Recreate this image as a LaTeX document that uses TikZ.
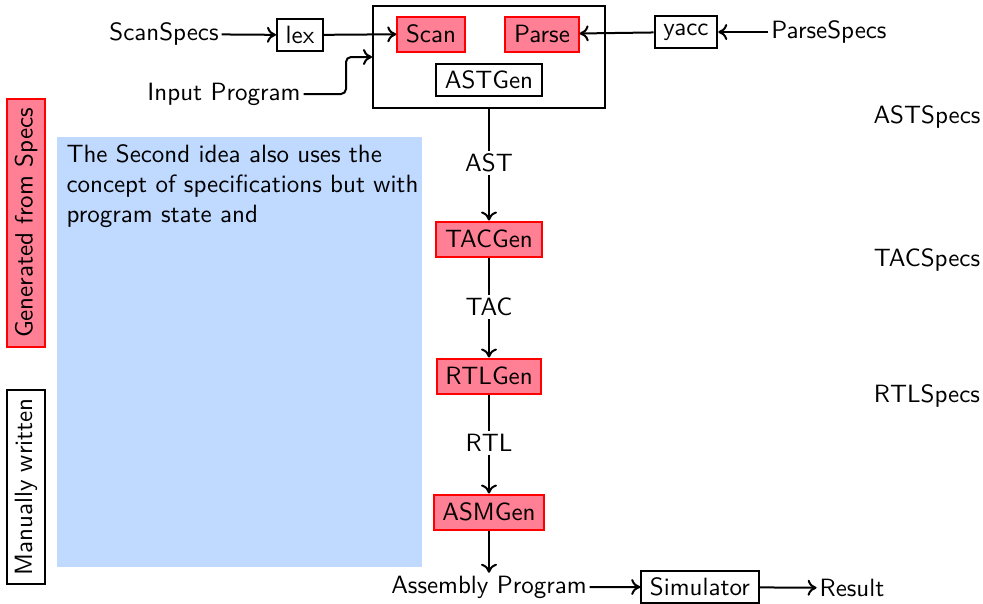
\documentclass[tikz,border=0pt]{standalone}
\usetikzlibrary{positioning}
\usetikzlibrary{arrows.meta}
\definecolor{specred}{RGB}{255,128,148}
\definecolor{noteblue}{RGB}{191,217,255}
\tikzset {
  x=0.4pt, y=-0.4pt,
  font=\sffamily,
  % plain boxes
  box/.style = {draw, thick, minimum height=13pt, inner xsep=3.5pt, inner ysep=2pt},
  % boxes that are generated from specs
  gen/.style = {box, draw=red, fill=specred, minimum height=14pt},
  % labels on the data path
  lbl/.style = {inner sep=1pt},
  flow/.style = {-{To[length=3.6pt, width=6.4pt]}, thick},
}

\begin{document}
\begin{tikzpicture}
  \useasboundingbox (0,0) rectangle (983,603);

  % front end
  \node[draw, thick, minimum width=92.8pt, minimum height=40.8pt] (frontend) at (489,57) {};
  \node[gen] (scan) at (431,34) {Scan};
  \node[gen] (parse) at (542,34) {Parse};
  \node[box] (astgen) at (489,80) {ASTGen};
  \node[box] (lex) at (300,35) {lex};
  \node[box] (yacc) at (686,32) {yacc};
  \node[lbl] (scanspecs) at (164,34) {ScanSpecs};
  \node[lbl] (parsespecs) at (829,32) {ParseSpecs};
  \node[lbl] (inputprog) at (224,94) {Input Program};

  \draw[flow] (scanspecs) -- (lex);
  \draw[flow] (lex) -- (scan);
  \draw[flow] (parsespecs) -- (yacc);
  \draw[flow] (yacc) -- (parse);
  \draw[flow, rounded corners=2pt] (inputprog.east) -- (346,94) |- (frontend.west);

  % back end
  \node[lbl] (ast) at (489,163) {AST};
  \node[gen] (tacgen) [below of=ast, node distance=30.4pt] {TACGen};
  \node[lbl] (tac) [below of=tacgen, node distance=27.2pt] {TAC};
  \node[gen] (rtlgen) [below of=tac, node distance=27.6pt] {RTLGen};
  \node[lbl] (rtl) [below of=rtlgen, node distance=26.8pt] {RTL};
  \node[gen] (asmgen) [below of=rtl, node distance=27.6pt] {ASMGen};
  \node[lbl] (asmprog) [below of=asmgen, node distance=30pt] {Assembly Program};
  \node[box] (sim) at (700,587) {Simulator};
  \node[lbl] (result) at (852,588) {Result};

  \draw[thick] (frontend) -- (ast);
  \draw[flow] (ast) -- (tacgen);
  \draw[thick] (tacgen) -- (tac);
  \draw[flow] (tac) -- (rtlgen);
  \draw[thick] (rtlgen) -- (rtl);
  \draw[flow] (rtl) -- (asmgen);
  \draw[flow] (asmgen) -- (asmprog);
  \draw[flow] (asmprog) -- (sim);
  \draw[flow] (sim) -- (result);

  % specs
  \node[lbl] (astspecs) at (927,117) {ASTSpecs};
  \node[lbl] (tacspecs) at (927,260) {TACSpecs};
  \node[lbl] (rtlspecs) at (927,396) {RTLSpecs};

  % legend
  \node[gen, rotate=90, minimum width=97.6pt, minimum height=15.2pt] (genleg) at (26,223) {Generated from Specs};
  \node[box, rotate=90, minimum width=76.4pt, minimum height=15.2pt] (manleg) at (26,487) {Manually written};

  % note
  \node[fill=noteblue, minimum width=146pt, minimum height=172pt, inner sep=0pt] (note) at (239.5,352) {};
  \node[anchor=north west, text width=144pt, align=left, inner sep=0pt] (notetext) at (66,144)
    {The Second idea also uses the concept of specifications but with program state and};
\end{tikzpicture}
\end{document}
